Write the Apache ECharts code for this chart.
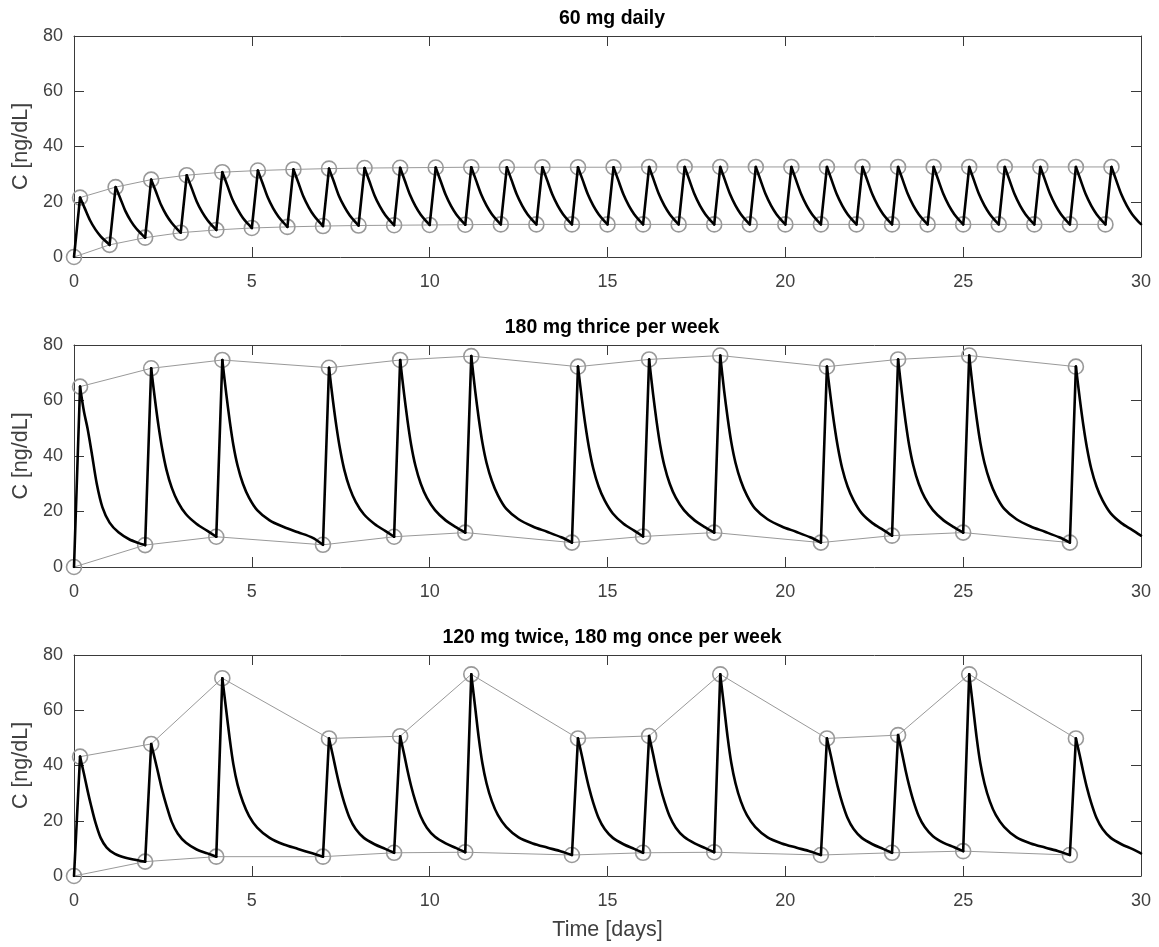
<!DOCTYPE html>
<html>
<head>
<meta charset="utf-8">
<script src="https://cdn.jsdelivr.net/npm/echarts@6/dist/echarts.min.js"></script>
<style>
html,body{margin:0;padding:0;background:#fff;}
#chart{width:1159px;height:947px;}
</style>
</head>
<body>
<div id="chart"></div>
<script>
// ---------- data ----------
const titles = ['60 mg daily', '180 mg thrice per week', '120 mg twice, 180 mg once per week'];
const xTicks = [0, 5, 10, 15, 20, 25, 30];
const yTicks = [0, 20, 40, 60, 80];

// 60 mg daily: concentration curve [time, C]
const curve1 = [
  [0,0],[0.17,21.5],[0.3,17.7],[0.45,13.3],[0.6,10.0],[0.75,7.5],[0.9,5.6],
  [1,4.4],[1.17,25.3],[1.3,21.3],[1.45,16.5],[1.6,13.0],[1.75,10.3],[1.9,8.3],
  [2,7.0],[2.17,28.0],[2.3,23.8],[2.45,18.8],[2.6,15.1],[2.75,12.3],[2.9,10.1],
  [3,8.8],[3.17,29.6],[3.3,25.2],[3.45,20.1],[3.6,16.3],[3.75,13.4],[3.9,11.2],
  [4,9.8],[4.17,30.7],[4.3,26.3],[4.45,21.0],[4.6,17.2],[4.75,14.1],[4.9,11.9],
  [5,10.5],[5.17,31.3],[5.3,26.8],[5.45,21.5],[5.6,17.6],[5.75,14.6],[5.9,12.3],
  [6,10.9],[6.17,31.7],[6.3,27.2],[6.45,21.9],[6.6,18.0],[6.75,14.9],[6.9,12.6],
  [7,11.2],[7.17,32.0],[7.3,27.5],[7.45,22.1],[7.6,18.2],[7.75,15.1],[7.9,12.8],
  [8,11.4],[8.17,32.2],[8.3,27.6],[8.45,22.3],[8.6,18.3],[8.75,15.2],[8.9,12.9],
  [9,11.5],[9.17,32.3],[9.3,27.7],[9.45,22.4],[9.6,18.4],[9.75,15.3],[9.9,13.0],
  [10,11.6],[10.17,32.4],[10.3,27.8],[10.45,22.5],[10.6,18.5],[10.75,15.4],[10.9,13.1],
  [11,11.7],[11.17,32.5],[11.3,27.9],[11.45,22.6],[11.6,18.6],[11.75,15.5],[11.9,13.2],
  [12,11.8],[12.17,32.5],[12.3,27.9],[12.45,22.6],[12.6,18.6],[12.75,15.5],[12.9,13.2],
  [13,11.8],[13.17,32.5],[13.3,27.9],[13.45,22.6],[13.6,18.6],[13.75,15.5],[13.9,13.2],
  [14,11.8],[14.17,32.5],[14.3,27.9],[14.45,22.6],[14.6,18.6],[14.75,15.5],[14.9,13.2],
  [15,11.8],[15.17,32.5],[15.3,27.9],[15.45,22.6],[15.6,18.6],[15.75,15.5],[15.9,13.2],
  [16,11.8],[16.17,32.6],[16.3,27.9],[16.45,22.6],[16.6,18.6],[16.75,15.5],[16.9,13.2],
  [17,11.8],[17.17,32.6],[17.3,27.9],[17.45,22.6],[17.6,18.6],[17.75,15.5],[17.9,13.2],
  [18,11.8],[18.17,32.6],[18.3,27.9],[18.45,22.6],[18.6,18.6],[18.75,15.5],[18.9,13.2],
  [19,11.8],[19.17,32.6],[19.3,27.9],[19.45,22.6],[19.6,18.6],[19.75,15.5],[19.9,13.2],
  [20,11.8],[20.17,32.6],[20.3,27.9],[20.45,22.6],[20.6,18.6],[20.75,15.5],[20.9,13.2],
  [21,11.8],[21.17,32.6],[21.3,27.9],[21.45,22.6],[21.6,18.6],[21.75,15.5],[21.9,13.2],
  [22,11.8],[22.17,32.6],[22.3,27.9],[22.45,22.6],[22.6,18.6],[22.75,15.5],[22.9,13.2],
  [23,11.8],[23.17,32.6],[23.3,27.9],[23.45,22.6],[23.6,18.6],[23.75,15.5],[23.9,13.2],
  [24,11.8],[24.17,32.6],[24.3,27.9],[24.45,22.6],[24.6,18.6],[24.75,15.5],[24.9,13.2],
  [25,11.8],[25.17,32.6],[25.3,27.9],[25.45,22.6],[25.6,18.6],[25.75,15.5],[25.9,13.2],
  [26,11.8],[26.17,32.6],[26.3,27.9],[26.45,22.6],[26.6,18.6],[26.75,15.5],[26.9,13.2],
  [27,11.8],[27.17,32.6],[27.3,27.9],[27.45,22.6],[27.6,18.6],[27.75,15.5],[27.9,13.2],
  [28,11.8],[28.17,32.6],[28.3,27.9],[28.45,22.6],[28.6,18.6],[28.75,15.5],[28.9,13.2],
  [29,11.8],[29.17,32.6],[29.3,27.9],[29.45,22.6],[29.6,18.6],[29.75,15.5],[29.9,13.2],
  [30,11.9]
];
const peaks1 = [
  [0.17,21.5],[1.17,25.3],[2.17,28.0],[3.17,29.6],[4.17,30.7],[5.17,31.3],[6.17,31.7],[7.17,32.0],
  [8.17,32.2],[9.17,32.3],[10.17,32.4],[11.17,32.5],[12.17,32.5],[13.17,32.5],[14.17,32.5],[15.17,32.5],
  [16.17,32.6],[17.17,32.6],[18.17,32.6],[19.17,32.6],[20.17,32.6],[21.17,32.6],[22.17,32.6],[23.17,32.6],
  [24.17,32.6],[25.17,32.6],[26.17,32.6],[27.17,32.6],[28.17,32.6],[29.17,32.6]
];
const troughs1 = [
  [0,0],[1,4.4],[2,7.0],[3,8.8],[4,9.8],[5,10.5],[6,10.9],[7,11.2],[8,11.4],[9,11.5],
  [10,11.6],[11,11.7],[12,11.8],[13,11.8],[14,11.8],[15,11.8],[16,11.8],[17,11.8],[18,11.8],[19,11.8],
  [20,11.8],[21,11.8],[22,11.8],[23,11.8],[24,11.8],[25,11.8],[26,11.8],[27,11.8],[28,11.8],[29,11.8]
];

// 180 mg thrice per week
const curve2 = [
  [0,0],[0.17,65.0],[0.28,56],[0.38,50],[0.5,41],[0.64,30],[0.8,21.5],[1.0,16],[1.25,12.5],[1.55,10],[1.8,8.7],
  [2,7.9],[2.17,71.6],[2.28,60],[2.38,50.5],[2.48,42.5],[2.6,35],[2.75,28.5],[2.92,23.5],[3.15,19],[3.45,15.5],[3.75,13],
  [4,10.9],[4.17,74.6],[4.28,62.5],[4.38,52.5],[4.48,44],[4.6,36.5],[4.75,30],[4.92,25],[5.15,20.5],[5.5,16.8],[5.9,14.4],[6.3,12.5],[6.7,10.6],
  [7,8.0],[7.17,71.8],[7.28,60],[7.38,50.5],[7.48,42.5],[7.6,35],[7.75,28.5],[7.92,23.5],[8.15,19],[8.45,15.5],[8.75,13],
  [9,10.9],[9.17,74.6],[9.28,62.5],[9.38,52.5],[9.48,44],[9.6,36.5],[9.75,30],[9.92,25],[10.15,20.5],[10.45,16.8],[10.75,14.3],
  [11,12.4],[11.17,76.0],[11.28,63.5],[11.38,53.5],[11.48,45],[11.6,37.5],[11.75,31],[11.92,25.8],[12.15,21],[12.5,17.2],[12.9,14.6],[13.3,12.7],[13.7,10.7],
  [14,8.8],[14.17,72.2],[14.28,60.5],[14.38,51],[14.48,43],[14.6,35.5],[14.75,29],[14.92,24],[15.15,19.3],[15.45,15.6],[15.75,13.1],
  [16,11.0],[16.17,74.8],[16.28,62.5],[16.38,52.5],[16.48,44],[16.6,36.5],[16.75,30],[16.92,25],[17.15,20.5],[17.45,16.8],[17.75,14.3],
  [18,12.4],[18.17,76.2],[18.28,63.5],[18.38,53.5],[18.48,45],[18.6,37.5],[18.75,31],[18.92,25.8],[19.15,21],[19.5,17.2],[19.9,14.6],[20.3,12.7],[20.7,10.7],
  [21,8.8],[21.17,72.2],[21.28,60.5],[21.38,51],[21.48,43],[21.6,35.5],[21.75,29],[21.92,24],[22.15,19.3],[22.45,15.8],[22.75,13.4],
  [23,11.3],[23.17,74.8],[23.28,62.5],[23.38,52.5],[23.48,44],[23.6,36.5],[23.75,30],[23.92,25],[24.15,20.5],[24.45,16.8],[24.75,14.3],
  [25,12.4],[25.17,76.2],[25.28,63.5],[25.38,53.5],[25.48,45],[25.6,37.5],[25.75,31],[25.92,25.8],[26.15,21],[26.5,17.2],[26.9,14.6],[27.3,12.7],[27.7,10.7],
  [28,8.8],[28.17,72.2],[28.28,60.5],[28.38,51],[28.48,43],[28.6,35.5],[28.75,29],[28.92,24],[29.15,19.3],[29.45,15.8],[29.75,13.4],[30,11.3]
];
const peaks2 = [
  [0.17,65.0],[2.17,71.6],[4.17,74.6],[7.17,71.8],[9.17,74.6],[11.17,76.0],[14.17,72.2],
  [16.17,74.8],[18.17,76.2],[21.17,72.2],[23.17,74.8],[25.17,76.2],[28.17,72.2]
];
const troughs2 = [
  [0,0],[2,7.9],[4,10.9],[7,8.0],[9,10.9],[11,12.4],[14,8.8],
  [16,11.0],[18,12.4],[21,8.8],[23,11.3],[25,12.4],[28,8.8]
];

// 120 mg twice, 180 mg once per week
const curve3 = [
  [0,0],[0.17,43.2],[0.28,37],[0.38,31],[0.48,25.5],[0.6,19.5],[0.75,13.8],[0.92,10.3],[1.15,8.0],[1.45,6.6],[1.75,5.8],
  [2,5.2],[2.17,47.8],[2.28,42],[2.38,36.5],[2.48,31],[2.6,25.5],[2.75,19.5],[2.92,15.3],[3.15,12],[3.45,9.6],[3.75,8.2],
  [4,7.0],[4.17,71.6],[4.28,60],[4.38,49.5],[4.48,40.5],[4.6,33],[4.75,26.8],[4.92,21.8],[5.15,17.5],[5.5,13.8],[5.9,11.4],[6.3,9.8],[6.7,8.2],
  [7,7.0],[7.17,49.8],[7.28,43.5],[7.38,37.5],[7.48,32],[7.6,26.5],[7.75,21],[7.92,17],[8.15,13.8],[8.45,11.5],[8.75,9.8],
  [9,8.4],[9.17,50.6],[9.28,44.2],[9.38,38],[9.48,32.5],[9.6,27],[9.75,21.5],[9.92,17.5],[10.15,14.2],[10.45,11.8],[10.75,10.1],
  [11,8.6],[11.17,73.0],[11.28,61],[11.38,50],[11.48,41],[11.6,33.5],[11.75,27],[11.92,22],[12.15,17.8],[12.5,14],[12.9,11.8],[13.3,10.3],[13.7,8.9],
  [14,7.6],[14.17,49.8],[14.28,43.5],[14.38,37.5],[14.48,32],[14.6,26.5],[14.75,21],[14.92,17],[15.15,13.8],[15.45,11.5],[15.75,9.8],
  [16,8.4],[16.17,50.7],[16.28,44.2],[16.38,38],[16.48,32.5],[16.6,27],[16.75,21.5],[16.92,17.5],[17.15,14.2],[17.45,11.8],[17.75,10.1],
  [18,8.6],[18.17,73.0],[18.28,61],[18.38,50],[18.48,41],[18.6,33.5],[18.75,27],[18.92,22],[19.15,17.8],[19.5,14],[19.9,11.8],[20.3,10.3],[20.7,8.9],
  [21,7.6],[21.17,49.8],[21.28,43.5],[21.38,37.5],[21.48,32],[21.6,26.5],[21.75,21],[21.92,17],[22.15,13.8],[22.45,11.5],[22.75,9.8],
  [23,8.4],[23.17,51.0],[23.28,44.5],[23.38,38.3],[23.48,32.8],[23.6,27.2],[23.75,21.7],[23.92,17.7],[24.15,14.4],[24.45,12.0],[24.75,10.4],
  [25,9.0],[25.17,73.0],[25.28,61],[25.38,50],[25.48,41],[25.6,33.5],[25.75,27],[25.92,22],[26.15,17.8],[26.5,14],[26.9,11.8],[27.3,10.3],[27.7,8.9],
  [28,7.6],[28.17,49.8],[28.28,43.5],[28.38,37.5],[28.48,32],[28.6,26.5],[28.75,21],[28.92,17],[29.15,13.8],[29.45,11.5],[29.75,9.8],[30,8.2]
];
const peaks3 = [
  [0.17,43.2],[2.17,47.8],[4.17,71.6],[7.17,49.8],[9.17,50.6],[11.17,73.0],[14.17,49.8],
  [16.17,50.7],[18.17,73.0],[21.17,49.8],[23.17,51.0],[25.17,73.0],[28.17,49.8]
];
const troughs3 = [
  [0,0],[2,5.2],[4,7.0],[7,7.0],[9,8.4],[11,8.6],[14,7.6],
  [16,8.4],[18,8.6],[21,7.6],[23,8.4],[25,9.0],[28,7.6]
];

// ---------- chart ----------
const FONT = 'Liberation Sans, Helvetica, Arial, sans-serif';
const AX = '#3a3a3a';
const LBL = '#404040';
const GRAY = '#999999';
const grids = [
  {left: 74, right: 18, top: 36, height: 221},
  {left: 74, right: 18, top: 345, height: 222},
  {left: 74, right: 18, top: 655, height: 221}
];
const curves = [curve1, curve2, curve3];
const peaks = [peaks1, peaks2, peaks3];
const troughs = [troughs1, troughs2, troughs3];

// split a curve into its rising strokes (dose uptake) and its decays, so only decays get smoothed
function splitCurve(c) {
  const rise = [], decay = [];
  for (let k = 0; k < c.length; k++) {
    const up = k > 0 && c[k][1] > c[k - 1][1];
    if (up) {
      rise.push(c[k - 1], c[k], [c[k][0], '-']);
      decay.push([c[k][0], '-']);
    }
    decay.push(c[k]);
  }
  return {rise, decay};
}

const xAxes = [], yAxes = [], series = [], titleArr = [];
grids.forEach((g, i) => {
  const common = {
    gridIndex: i, type: 'value', min: xTicks[0], max: xTicks[xTicks.length - 1], interval: 5,
    axisLine: {show: true, onZero: false, lineStyle: {color: AX, width: 1}},
    axisTick: {show: true, inside: true, length: 10, lineStyle: {color: AX, width: 1}},
    splitLine: {show: false}
  };
  xAxes.push(Object.assign({}, common, {
    position: 'bottom',
    axisLabel: {show: true, color: LBL, fontSize: 18, fontFamily: FONT, margin: 16},
    name: i === 2 ? 'Time [days]' : '',
    nameLocation: 'middle', nameGap: 43,
    nameTextStyle: {color: LBL, fontSize: 21.5, fontFamily: FONT}
  }));
  xAxes.push(Object.assign({}, common, {position: 'top', axisLabel: {show: false}}));
  const ycommon = {
    gridIndex: i, type: 'value', min: yTicks[0], max: yTicks[yTicks.length - 1], interval: 20,
    axisLine: {show: true, onZero: false, lineStyle: {color: AX, width: 1}},
    axisTick: {show: true, inside: true, length: 10, lineStyle: {color: AX, width: 1}},
    splitLine: {show: false}
  };
  yAxes.push(Object.assign({}, ycommon, {
    position: 'left',
    axisLabel: {show: true, color: LBL, fontSize: 18, fontFamily: FONT, margin: 11},
    name: 'C [ng/dL]', nameLocation: 'middle', nameGap: 37, nameRotate: 90,
    nameTextStyle: {color: LBL, fontSize: 21.5, fontFamily: FONT}
  }));
  yAxes.push(Object.assign({}, ycommon, {position: 'right', axisLabel: {show: false}}));

  titleArr.push({
    text: titles[i], left: 607, top: g.top - 32, textAlign: 'center',
    textStyle: {fontSize: 19.5, fontWeight: 'bold', color: '#000', fontFamily: FONT}
  });

  const mk = (data) => ({
    type: 'line', xAxisIndex: i * 2, yAxisIndex: i * 2, data: data,
    symbol: 'circle', symbolSize: 15, showSymbol: true,
    lineStyle: {color: GRAY, width: 1},
    itemStyle: {color: 'rgba(0,0,0,0)', borderColor: GRAY, borderWidth: 1.6},
    z: 2, silent: true, animation: false
  });
  series.push(mk(peaks[i]));
  series.push(mk(troughs[i]));
  const parts = splitCurve(curves[i]);
  series.push({
    type: 'line', xAxisIndex: i * 2, yAxisIndex: i * 2, data: parts.rise,
    symbol: 'none', connectNulls: false,
    lineStyle: {color: '#000', width: 2.6, cap: 'round', join: 'round'},
    z: 3, silent: true, animation: false
  });
  series.push({
    type: 'line', xAxisIndex: i * 2, yAxisIndex: i * 2, data: parts.decay,
    symbol: 'none', connectNulls: false, smooth: 0.3,
    lineStyle: {color: '#000', width: 2.6, cap: 'round', join: 'round'},
    z: 3, silent: true, animation: false
  });
});

const chart = echarts.init(document.getElementById('chart'), null, {renderer: 'canvas'});
chart.setOption({
  backgroundColor: '#fff',
  animation: false,
  title: titleArr,
  grid: grids,
  xAxis: xAxes,
  yAxis: yAxes,
  series: series
});
</script>
</body>
</html>
